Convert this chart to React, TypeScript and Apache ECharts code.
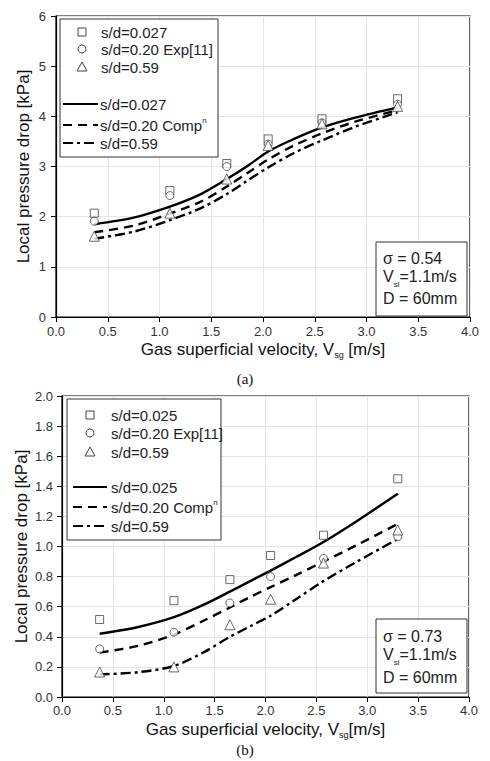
import React, { useEffect, useRef } from "react";
import * as echarts from "echarts";

// experimental points (symbols)
const xExp = [0.37, 1.1, 1.65, 2.05, 2.57, 3.3];
// computed curves
const xComp = [0.37, 0.75, 1.1, 1.4, 1.65, 1.85, 2.05, 2.3, 2.57, 2.9, 3.3];

// (a) sigma = 0.54
const aSq = [2.07, 2.52, 3.06, 3.55, 3.95, 4.35];
const aCi = [1.91, 2.42, 3.0, 3.45, 3.87, 4.24];
const aTr = [1.61, 2.07, 2.75, 3.42, 3.85, 4.2];
const aSolid = [1.85, 1.98, 2.2, 2.45, 2.75, 3.01, 3.3, 3.55, 3.78, 3.98, 4.18];
const aDash = [1.69, 1.82, 2.06, 2.3, 2.6, 2.87, 3.14, 3.42, 3.66, 3.9, 4.12];
const aDashDot = [1.56, 1.7, 1.93, 2.17, 2.45, 2.72, 2.98, 3.27, 3.52, 3.8, 4.08];

// (b) sigma = 0.73
const bSq = [0.515, 0.64, 0.78, 0.94, 1.075, 1.45];
const bCi = [0.32, 0.43, 0.625, 0.8, 0.92, 1.065];
const bTr = [0.166, 0.2, 0.48, 0.65, 0.89, 1.11];
const bSolid = [0.42, 0.465, 0.53, 0.615, 0.7, 0.77, 0.84, 0.93, 1.03, 1.17, 1.35];
const bDash = [0.295, 0.34, 0.415, 0.51, 0.595, 0.665, 0.73, 0.81, 0.9, 1.01, 1.15];
const bDashDot = [0.15, 0.165, 0.206, 0.3, 0.4, 0.47, 0.54, 0.65, 0.77, 0.9, 1.05];

const FONT = "'Liberation Sans', Arial, sans-serif";
const pairs = (xs: number[], ys: number[]) => xs.map((x, i) => [x, ys[i]]);

function scatter(idx: number, sym: string, data: number[], size: number) {
  return {
    type: "scatter",
    xAxisIndex: idx,
    yAxisIndex: idx,
    symbol: sym,
    symbolSize: size,
    data: pairs(xExp, data),
    itemStyle: { color: "#fff", borderColor: "#444", borderWidth: 1 },
    z: 3,
  };
}
function curve(idx: number, data: number[], dash: any) {
  return {
    type: "line",
    xAxisIndex: idx,
    yAxisIndex: idx,
    data: pairs(xComp, data),
    smooth: 0.3,
    showSymbol: false,
    lineStyle: { color: "#000", width: 2.4, type: dash },
    z: 2,
  };
}

function xAxisCfg(idx: number, margin: number, gap: number) {
  return {
    type: "value",
    gridIndex: idx,
    min: 0,
    max: 4,
    interval: 0.5,
    axisLine: { show: true, lineStyle: { color: "#000", width: 1.2 } },
    axisTick: { show: true, length: 5, lineStyle: { color: "#000" } },
    axisLabel: { color: "#333", fontSize: 13, fontFamily: FONT, margin, formatter: (v: number) => v.toFixed(1) },
    splitLine: { show: true, lineStyle: { color: "#e6e6e6", width: 1 } },
    name: "{a|Gas superficial velocity, V}{s|sg}{a|" + (idx === 0 ? " " : "") + "[m/s]}",
    nameLocation: "middle",
    nameGap: gap,
    nameMoveOverlap: false,
    nameTextStyle: {
      rich: {
        a: { fontSize: 17, fontFamily: FONT, color: "#111", lineHeight: 18, verticalAlign: "top" },
        s: { fontSize: 9, fontFamily: FONT, color: "#111", verticalAlign: "bottom", lineHeight: 9 },
      },
    },
  };
}

function yAxisCfg(idx: number, max: number, interval: number, dec: number, gap: number, margin: number) {
  return {
    type: "value",
    gridIndex: idx,
    min: 0,
    max,
    interval,
    axisLine: { show: true, lineStyle: { color: "#000", width: 1.2 } },
    axisTick: { show: true, length: 5, lineStyle: { color: "#000" } },
    axisLabel: { color: "#333", fontSize: 13, fontFamily: FONT, margin, formatter: (v: number) => v.toFixed(dec) },
    splitLine: { show: true, lineStyle: { color: "#e6e6e6", width: 1 } },
    name: "Local pressure drop [kPa]",
    nameLocation: "middle",
    nameGap: gap,
    nameMoveOverlap: false,
    nameTextStyle: { fontSize: 17, fontFamily: FONT, color: "#111" },
  };
}

function legendGraphics(
  box: { x: number; y: number; w: number; h: number },
  symX: number,
  textX: number,
  symRows: number[],
  lineX1: number,
  lineX2: number,
  lineTextX: number,
  lineRows: number[],
  labels: string[]
) {
  const els: any[] = [];
  els.push({
    type: "rect",
    shape: { x: box.x, y: box.y, width: box.w, height: box.h },
    style: { fill: "#fff", stroke: "#333", lineWidth: 1 },
    z: 10,
  });
  const st = { stroke: "#444", fill: "#fff", lineWidth: 1 };
  els.push({ type: "rect", shape: { x: symX - 4, y: symRows[0] - 4, width: 8, height: 8 }, style: st, z: 11 });
  els.push({ type: "circle", shape: { cx: symX, cy: symRows[1], r: 4 }, style: st, z: 11 });
  els.push({
    type: "polygon",
    shape: { points: [[symX - 5, symRows[2] + 4], [symX + 5, symRows[2] + 4], [symX, symRows[2] - 5]] },
    style: st,
    z: 11,
  });
  const tstyle = (t: string, x: number, y: number) => ({
    type: "text",
    x,
    y,
    style: { text: t, fontSize: 15, fontFamily: FONT, fill: "#222", verticalAlign: "middle", align: "left" },
    z: 11,
  });
  els.push(tstyle(labels[0], textX, symRows[0]));
  els.push(tstyle(labels[1], textX, symRows[1]));
  els.push(tstyle(labels[2], textX, symRows[2]));
  const dashes: any[] = ["solid", [9, 6], [10, 4, 3, 4]];
  dashes.forEach((d, i) => {
    els.push({
      type: "line",
      shape: { x1: lineX1, y1: lineRows[i], x2: lineX2, y2: lineRows[i] },
      style: { stroke: "#000", lineWidth: 2.2, lineDash: d === "solid" ? null : d },
      z: 11,
    });
  });
  els.push(tstyle(labels[3], lineTextX, lineRows[0]));
  els.push({
    type: "text",
    x: lineTextX,
    y: lineRows[1],
    style: {
      text: "{a|s/d=0.20 Comp}{s|n}",
      verticalAlign: "middle",
      rich: {
        a: { fontSize: 15, fontFamily: FONT, fill: "#222", lineHeight: 18 },
        s: { fontSize: 8, fontFamily: FONT, fill: "#222", verticalAlign: "top", lineHeight: 18 },
      },
    },
    z: 11,
  });
  els.push(tstyle(labels[4], lineTextX, lineRows[2]));
  return els;
}

function noteGraphics(box: { x: number; y: number; w: number; h: number }, tx: number, rows: number[], sigma: string) {
  const els: any[] = [];
  els.push({
    type: "rect",
    shape: { x: box.x, y: box.y, width: box.w, height: box.h },
    style: { fill: "#fff", stroke: "#333", lineWidth: 1 },
    z: 10,
  });
  const base = { fontSize: 16, fontFamily: FONT, fill: "#222" };
  els.push({ type: "text", x: tx, y: rows[0], style: { text: "σ = " + sigma, ...base, verticalAlign: "middle" }, z: 11 });
  els.push({
    type: "text",
    x: tx,
    y: rows[1],
    style: {
      text: "{a|V}{s|sl}{a|=1.1m/s}",
      verticalAlign: "middle",
      rich: {
        a: { ...base, lineHeight: 20, verticalAlign: "top" },
        s: { fontSize: 8, fontFamily: FONT, fill: "#222", verticalAlign: "bottom", lineHeight: 9 },
      },
    },
    z: 11,
  });
  els.push({ type: "text", x: tx, y: rows[2], style: { text: "D = 60mm", ...base, verticalAlign: "middle" }, z: 11 });
  return els;
}

export default function App() {
  const ref = useRef<HTMLDivElement>(null);
  useEffect(() => {
    document.body.style.margin = "0";
    const chart = echarts.init(ref.current!, null, { renderer: "svg" });
    const graphics = [
      ...legendGraphics(
        { x: 60, y: 19, w: 158, h: 138 },
        82, 101, [32, 49, 67],
        63, 98, 100, [104, 125, 143],
        ["s/d=0.027", "s/d=0.20 Exp[11]", "s/d=0.59", "s/d=0.027", "s/d=0.59"]
      ),
      ...legendGraphics(
        { x: 67, y: 399, w: 154, h: 141 },
        90, 111, [415, 433, 452],
        73, 107, 111, [487, 507, 526],
        ["s/d=0.025", "s/d=0.20 Exp[11]", "s/d=0.59", "s/d=0.025", "s/d=0.59"]
      ),
      ...noteGraphics({ x: 376, y: 242, w: 91, h: 74 }, 383, [258, 278, 298], "0.54"),
      ...noteGraphics({ x: 376, y: 619, w: 91, h: 74 }, 383, [636, 656, 677], "0.73"),
      {
        type: "text",
        x: 245,
        y: 379,
        style: { text: "(a)", fontSize: 15, fontFamily: "'Liberation Serif', serif", fill: "#111", align: "center", verticalAlign: "middle" },
      },
      {
        type: "text",
        x: 245,
        y: 750,
        style: { text: "(b)", fontSize: 15, fontFamily: "'Liberation Serif', serif", fill: "#111", align: "center", verticalAlign: "middle" },
      },
    ];
    chart.setOption({
      animation: false,
      backgroundColor: "#fff",
      grid: [
        { left: 56, top: 16, width: 414, height: 301, show: true, borderColor: "#000", borderWidth: 1.2, containLabel: false },
        { left: 62, top: 396, width: 407, height: 301, show: true, borderColor: "#000", borderWidth: 1.2, containLabel: false },
      ],
      xAxis: [xAxisCfg(0, 8, 24), xAxisCfg(1, 7, 24)],
      yAxis: [yAxisCfg(0, 6, 1, 0, 24, 10), yAxisCfg(1, 2, 0.2, 1, 32, 9)],
      series: [
        curve(0, aSolid, "solid"),
        curve(0, aDash, [9, 6]),
        curve(0, aDashDot, [10, 4, 3, 4]),
        scatter(0, "rect", aSq, 8),
        scatter(0, "circle", aCi, 8),
        scatter(0, "triangle", aTr, 10),
        curve(1, bSolid, "solid"),
        curve(1, bDash, [9, 6]),
        curve(1, bDashDot, [10, 4, 3, 4]),
        scatter(1, "rect", bSq, 8),
        scatter(1, "circle", bCi, 8),
        scatter(1, "triangle", bTr, 10),
      ],
      graphic: graphics,
    });
    return () => chart.dispose();
  }, []);
  return <div ref={ref} style={{ width: 490, height: 761 }} />;
}
